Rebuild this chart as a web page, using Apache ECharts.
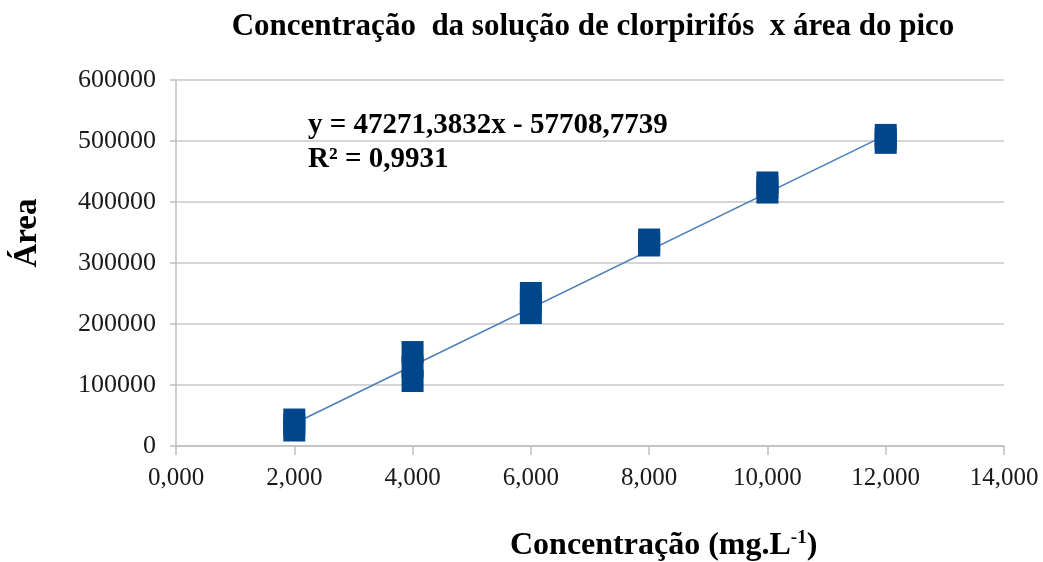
<!DOCTYPE html>
<html>
<head>
<meta charset="utf-8">
<script src="https://cdn.jsdelivr.net/npm/echarts@6/dist/echarts.min.js"></script>
<style>html,body{margin:0;padding:0;background:#fff;}#c{width:1043px;height:562px;}</style>
</head>
<body>
<div id="c"></div>
<script>
// Data
const concentrations = [2, 2, 2, 4, 4, 4, 6, 6, 6, 8, 8, 8, 10, 10, 10, 12, 12, 12];
const areas = [25400, 35000, 43400, 106500, 130000, 154000, 218000, 235000, 250800, 328700, 333000, 338500, 415500, 424000, 432000, 497000, 503000, 510000];
const trendSlope = 47271.3832;
const trendIntercept = -57708.7739;
const trendRange = [2, 12];
const xTicks = [0, 2, 4, 6, 8, 10, 12, 14];
const yTicks = [0, 100000, 200000, 300000, 400000, 500000, 600000];
const titleText = 'Concentração  da solução de clorpirifós  x área do pico';
const yAxisTitle = 'Área';
const equationText = 'y = 47271,3832x - 57708,7739';
const r2Text = 'R² = 0,9931';

const points = concentrations.map((c, i) => [c, areas[i]]);
const trendPoints = trendRange.map(x => [x, trendSlope * x + trendIntercept]);

const serif = '"Liberation Serif", "Times New Roman", serif';
const chart = echarts.init(document.getElementById('c'), null, {renderer: 'canvas'});
chart.setOption({
  animation: false,
  backgroundColor: '#fff',
  title: {
    text: titleText,
    left: 588, top: 6, textAlign: 'center',
    textStyle: {fontFamily: serif, fontWeight: 'bold', fontSize: 31, color: '#000'}
  },
  grid: {left: 176, right: 39, top: 80, bottom: 116},
  xAxis: {
    type: 'value', min: xTicks[0], max: xTicks[xTicks.length - 1], interval: 2,
    axisLine: {show: true, onZero: false, lineStyle: {color: '#bfbfbf', width: 1.5}},
    axisTick: {show: true, length: 9, lineStyle: {color: '#bfbfbf', width: 1.5}},
    splitLine: {show: false},
    axisLabel: {
      margin: 20, fontFamily: serif, fontSize: 25, color: '#1a1a1a',
      formatter: v => v.toFixed(3).replace('.', ',')
    }
  },
  yAxis: {
    type: 'value', min: yTicks[0], max: yTicks[yTicks.length - 1], interval: 100000,
    axisLine: {show: true, lineStyle: {color: '#bfbfbf', width: 1.5}},
    axisTick: {show: true, length: 6, lineStyle: {color: '#bfbfbf', width: 1.5}},
    splitLine: {show: true, lineStyle: {color: '#c8c8c8', width: 1.5}},
    axisLabel: {margin: 20, fontFamily: serif, fontSize: 26, color: '#1a1a1a', formatter: v => String(v)}
  },
  graphic: [
    {type: 'text', left: 308, top: 111, style: {text: equationText, font: 'bold 29px ' + serif, fill: '#000'}},
    {type: 'text', left: 308, top: 145, style: {text: r2Text, font: 'bold 29px ' + serif, fill: '#000'}},
    {type: 'text', x: 27, y: 233, rotation: Math.PI / 2, style: {
      text: yAxisTitle, font: 'bold 33px ' + serif, fill: '#000', align: 'center', verticalAlign: 'middle'
    }},
    {type: 'text', left: 510, top: 529, style: {
      rich: {
        a: {font: 'bold 32px ' + serif, fill: '#000'},
        s: {font: 'bold 19px ' + serif, fill: '#000', verticalAlign: 'top', padding: [0, 0, 15, 0]}
      },
      text: '{a|Concentração (mg.L}{s|-1}{a|)}'
    }}
  ],
  series: [
    {
      type: 'line', data: trendPoints, symbol: 'none', z: 2,
      lineStyle: {color: '#4a7ebb', width: 1.5}
    },
    {
      type: 'scatter', data: points, symbol: 'rect', symbolSize: 22, z: 3,
      itemStyle: {color: '#00468b', opacity: 1}
    }
  ]
});
</script>
</body>
</html>
